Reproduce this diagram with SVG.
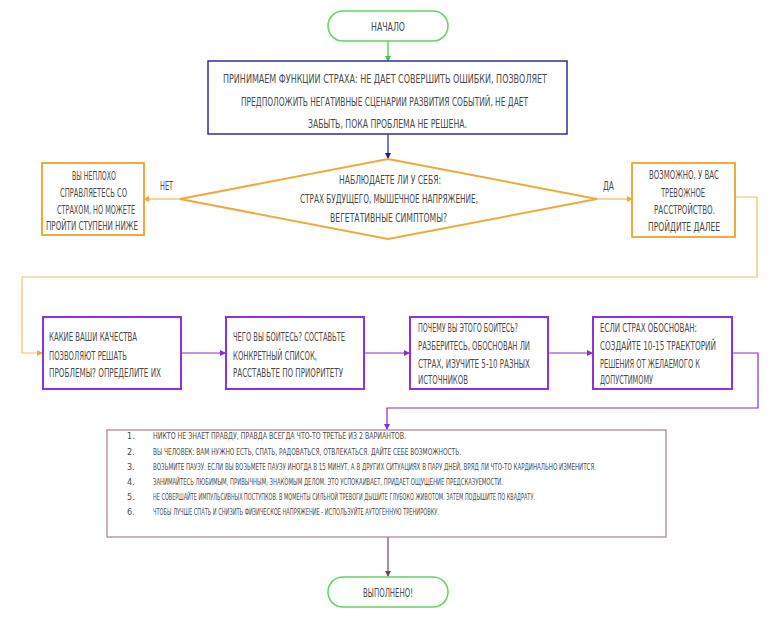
<svg xmlns="http://www.w3.org/2000/svg" width="778" height="630" viewBox="0 0 778 630">
<style>
text{font-family:"DejaVu Sans Condensed","Liberation Sans",sans-serif;font-size:11.5px;fill:#4a4a4a;text-transform:uppercase;}
.li{font-size:9px;}
.sm{font-size:8px;}
.term{fill:#fff;stroke:#62d462;stroke-width:1.5;}
.blue{fill:#fff;stroke:#2c2c9c;stroke-width:1.5;}
.orange{fill:#fff;stroke:#f0a93a;stroke-width:2;}
.purple{fill:#fff;stroke:#9330d6;stroke-width:2;}
.list{fill:#fff;stroke:#a87c93;stroke-width:1.2;}
.c{fill:none;stroke-width:1.2;}
</style>
<defs>
<marker id="ag" markerWidth="6" markerHeight="6" refX="5" refY="3" orient="auto" markerUnits="userSpaceOnUse"><path d="M0,0L6,3L0,6z" fill="#3cc83c"/></marker>
<marker id="ab" markerWidth="6" markerHeight="6" refX="5" refY="3" orient="auto" markerUnits="userSpaceOnUse"><path d="M0,0L6,3L0,6z" fill="#1e1e9a"/></marker>
<marker id="ao" markerWidth="6" markerHeight="6" refX="5" refY="3" orient="auto" markerUnits="userSpaceOnUse"><path d="M0,0L6,3L0,6z" fill="#f0a93a"/></marker>
<marker id="ap" markerWidth="6" markerHeight="6" refX="5" refY="3" orient="auto" markerUnits="userSpaceOnUse"><path d="M0,0L6,3L0,6z" fill="#8a2bd8"/></marker>
<marker id="am" markerWidth="6" markerHeight="6" refX="5" refY="3" orient="auto" markerUnits="userSpaceOnUse"><path d="M0,0L6,3L0,6z" fill="#7a3d68"/></marker>
</defs>
<rect width="778" height="630" fill="#fff"/>

<g id="connectors">
<path class="c" d="M388,41V61" stroke="#3cc83c" marker-end="url(#ag)"/>
<path class="c" d="M388,134V158" stroke="#1e1e9a" marker-end="url(#ab)"/>
<path class="c" d="M180,199H144" stroke="#f0a93a" marker-end="url(#ao)"/>
<path class="c" d="M597,199H632" stroke="#f0a93a" marker-end="url(#ao)"/>
<path class="c" d="M735,197H757V277H22V353H42" stroke="#f0c060" marker-end="url(#ao)"/>
<path class="c" d="M181,353H225" stroke="#8a2bd8" marker-end="url(#ap)"/>
<path class="c" d="M364,353H409" stroke="#8a2bd8" marker-end="url(#ap)"/>
<path class="c" d="M548,353H592" stroke="#8a2bd8" marker-end="url(#ap)"/>
<path class="c" d="M732,353H758V408H387V429" stroke="#8a2bd8" marker-end="url(#ap)"/>
<path class="c" d="M388,537V576" stroke="#7a3d68" marker-end="url(#am)"/>
<text x="160" y="190" textLength="13" lengthAdjust="spacingAndGlyphs">нет</text>
<text x="603" y="190" textLength="11" lengthAdjust="spacingAndGlyphs">да</text>
</g>

<g id="start">
<rect class="term" x="328" y="11" width="120" height="30" rx="15"/>
<text x="371" y="31" textLength="34" lengthAdjust="spacingAndGlyphs">Начало</text>
</g>

<g id="fear-functions">
<rect class="blue" x="208" y="61" width="359" height="73"/>
<text x="223" y="83" textLength="324" lengthAdjust="spacingAndGlyphs">Принимаем функции страха: не дает совершить ошибки, позволяет</text>
<text x="241" y="106" textLength="287" lengthAdjust="spacingAndGlyphs">предположить негативные сценарии развития событий, не дает</text>
<text x="308" y="128" textLength="159" lengthAdjust="spacingAndGlyphs">забыть, пока проблема не решена.</text>
</g>

<g id="decision">
<polygon class="orange" points="388,159 597,199 388,239 180,199"/>
<text x="339" y="184" textLength="102" lengthAdjust="spacingAndGlyphs">Наблюдаете ли у себя:</text>
<text x="300" y="203" textLength="178" lengthAdjust="spacingAndGlyphs">страх будущего, мышечное напряжение,</text>
<text x="330" y="222" textLength="117" lengthAdjust="spacingAndGlyphs">вегетативные симптомы?</text>
</g>

<g id="no-box">
<rect class="orange" x="42" y="163" width="102" height="72"/>
<text x="72" y="180" textLength="44" lengthAdjust="spacingAndGlyphs">Вы неплохо</text>
<text x="60" y="197" textLength="67" lengthAdjust="spacingAndGlyphs">справляетесь со</text>
<text x="57" y="214" textLength="78" lengthAdjust="spacingAndGlyphs">страхом, но можете</text>
<text x="46" y="230" textLength="92" lengthAdjust="spacingAndGlyphs">пройти ступени ниже</text>
</g>

<g id="yes-box">
<rect class="orange" x="632" y="163" width="103" height="74"/>
<text x="649" y="179" textLength="70" lengthAdjust="spacingAndGlyphs">Возможно, у вас</text>
<text x="661" y="197" textLength="44" lengthAdjust="spacingAndGlyphs">тревожное</text>
<text x="654" y="214" textLength="61" lengthAdjust="spacingAndGlyphs">расстройство.</text>
<text x="648" y="231" textLength="72" lengthAdjust="spacingAndGlyphs">Пройдите далее</text>
</g>

<g id="step1">
<rect class="purple" x="43" y="317" width="138" height="72"/>
<text x="49" y="341" textLength="88" lengthAdjust="spacingAndGlyphs">Какие ваши качества</text>
<text x="49" y="360" textLength="78" lengthAdjust="spacingAndGlyphs">позволяют решать</text>
<text x="49" y="377" textLength="112" lengthAdjust="spacingAndGlyphs">проблемы? Определите их</text>
</g>

<g id="step2">
<rect class="purple" x="226" y="317" width="138" height="72"/>
<text x="233" y="341" textLength="112" lengthAdjust="spacingAndGlyphs">Чего вы боитесь? Составьте</text>
<text x="233" y="360" textLength="84" lengthAdjust="spacingAndGlyphs">конкретный список,</text>
<text x="233" y="377" textLength="110" lengthAdjust="spacingAndGlyphs">расставьте по приоритету</text>
</g>

<g id="step3">
<rect class="purple" x="410" y="317" width="138" height="72"/>
<text x="418" y="332" textLength="100" lengthAdjust="spacingAndGlyphs">Почему вы этого боитесь?</text>
<text x="418" y="350" textLength="112" lengthAdjust="spacingAndGlyphs">Разберитесь, обоснован ли</text>
<text x="418" y="368" textLength="112" lengthAdjust="spacingAndGlyphs">страх, изучите 5-10 разных</text>
<text x="418" y="384" textLength="50" lengthAdjust="spacingAndGlyphs">источников</text>
</g>

<g id="step4">
<rect class="purple" x="593" y="317" width="139" height="72"/>
<text x="600" y="332" textLength="97" lengthAdjust="spacingAndGlyphs">Если страх обоснован:</text>
<text x="600" y="350" textLength="116" lengthAdjust="spacingAndGlyphs">создайте 10-15 траекторий</text>
<text x="600" y="368" textLength="100" lengthAdjust="spacingAndGlyphs">решения от желаемого к</text>
<text x="600" y="384" textLength="53" lengthAdjust="spacingAndGlyphs">допустимому</text>
</g>

<g id="tips">
<rect class="list" x="107" y="430" width="559" height="107"/>
<text class="li" x="127" y="439">1.</text>
<text class="li" x="127" y="455">2.</text>
<text class="li" x="127" y="470">3.</text>
<text class="li" x="127" y="485">4.</text>
<text class="li" x="127" y="500">5.</text>
<text class="li" x="127" y="515">6.</text>
<text class="li" x="153" y="439" textLength="253" lengthAdjust="spacingAndGlyphs">Никто не знает правду, правда всегда что-то третье из 2 вариантов.</text>
<text class="li" x="153" y="455" textLength="308" lengthAdjust="spacingAndGlyphs">Вы человек: вам нужно есть, спать, радоваться, отвлекаться. Дайте себе возможность.</text>
<text class="li sm" x="153" y="470" textLength="443" lengthAdjust="spacingAndGlyphs">Возьмите паузу. Если вы возьмете паузу иногда в 15 минут, а в других ситуациях в пару дней, вряд ли что-то кардинально изменится.</text>
<text class="li" x="153" y="485" textLength="350" lengthAdjust="spacingAndGlyphs">Занимайтесь любимым, привычным, знакомым делом. Это успокаивает, придает ощущение предсказуемости.</text>
<text class="li" x="153" y="500" textLength="382" lengthAdjust="spacingAndGlyphs">Не совершайте импульсивных поступков. В моменты сильной тревоги дышите глубоко животом. Затем подышите по квадрату.</text>
<text class="li" x="153" y="515" textLength="286" lengthAdjust="spacingAndGlyphs">Чтобы лучше спать и снизить физическое напряжение - используйте аутогенную тренировку.</text>
</g>

<g id="end">
<rect class="term" x="328" y="577" width="120" height="30" rx="15"/>
<text x="363" y="597" textLength="50" lengthAdjust="spacingAndGlyphs">Выполнено!</text>
</g>
</svg>
